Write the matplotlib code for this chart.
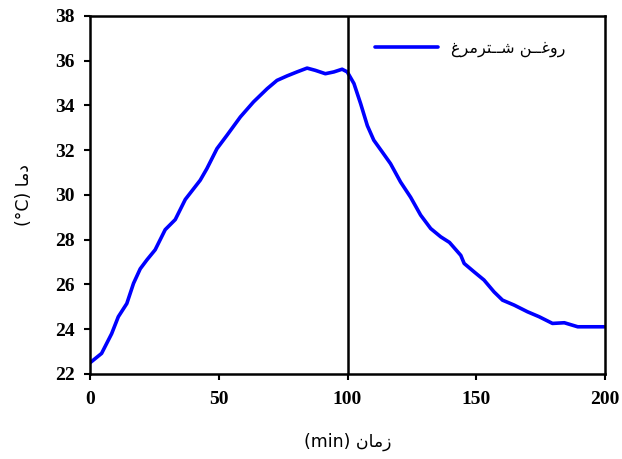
import matplotlib
matplotlib.use("Agg")
import matplotlib.pyplot as plt

plt.rcParams['font.family'] = ['DejaVu Sans']

time_min = [0, 4.5, 8.4, 11.0, 14.3, 16.9, 19.5, 22.1, 25.3, 29.2, 33.1, 37.0,
            42.8, 45.4, 49.3, 53.2, 58.4, 63.5, 68.8, 72.6, 76.5, 80.4, 84.3,
            87.5, 91.4, 94.7, 97.9, 99.9, 102.5, 105.1, 107.7, 110.2, 113.5,
            116.7, 120.6, 124.5, 128.4, 132.3, 136.2, 139.6, 144.0, 145.3, 149.1,
            153.0, 156.9, 160.2, 164.7, 169.9, 174.4, 179.6, 184.2, 189.4, 194.6, 199.7]
temp_c = [22.5, 22.92, 23.8, 24.56, 25.15, 26.05, 26.7, 27.1, 27.55, 28.45, 28.9, 29.8,
          30.66, 31.18, 32.07, 32.67, 33.49, 34.16, 34.75, 35.12, 35.32, 35.5, 35.67,
          35.57, 35.42, 35.5, 35.62, 35.5, 34.98, 34.08, 33.1, 32.45, 31.92,
          31.4, 30.58, 29.9, 29.1, 28.5, 28.13, 27.88, 27.3, 26.94, 26.57,
          26.2, 25.67, 25.3, 25.08, 24.78, 24.56, 24.26, 24.29, 24.11, 24.11, 24.11]
x_ticks = [0, 50, 100, 150, 200]
y_ticks = [22, 24, 26, 28, 30, 32, 34, 36, 38]
divider_x = 100

# Persian labels in visual order with Arabic presentation forms
legend_label = "\uFECD\uFEAE\uFEE3\uFEAE\uFE98\u0640\u0640\uFEB7 \uFEE6\u0640\u0640\uFECF\uFEED\uFEAD"
xlabel_text = "(min) \uFEE5\uFE8E\uFEE3\uFEAF"
ylabel_text = "(°C) \uFE8E\uFEE3\uFEA9"

fig = plt.figure(figsize=(6.22, 4.59), dpi=100)
ax = fig.add_axes([0.1447, 0.1852, 0.828, 0.780])

ax.plot(time_min, temp_c, color='#0000ff', lw=2.6, label=legend_label,
        solid_capstyle='round', solid_joinstyle='round')
ax.axvline(divider_x, color='black', lw=1.8)

ax.set_xlim(0, 200)
ax.set_ylim(22, 38)
ax.set_xticks(x_ticks)
ax.set_yticks(y_ticks)
for lab in ax.get_xticklabels() + ax.get_yticklabels():
    lab.set_fontweight('bold')
    lab.set_fontsize(14)
    lab.set_family('Liberation Serif')
ax.tick_params(axis='x', direction='out', length=4, width=1.5, pad=8)
ax.tick_params(axis='y', direction='out', length=4, width=1.5, pad=7)
for s in ax.spines.values():
    s.set_linewidth(1.8)

ax.set_xlabel(xlabel_text, fontsize=12.5, labelpad=18)
ax.set_ylabel(ylabel_text, fontsize=12.5, labelpad=16)

leg = ax.legend(loc='upper right', frameon=False, fontsize=11.5, handlelength=3.9,
                bbox_to_anchor=(0.95, 0.97))

fig.savefig('out.png', dpi=100)
